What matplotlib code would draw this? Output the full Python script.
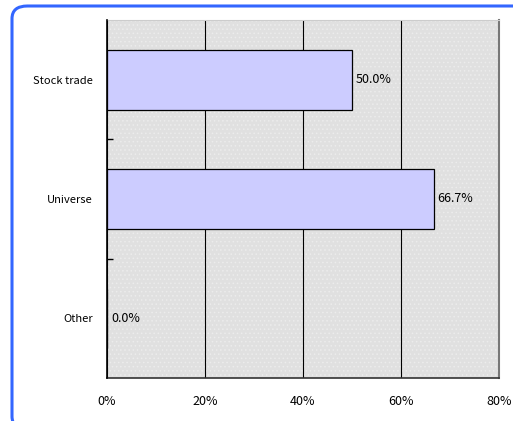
#Horizontal bar chart: share by category

import matplotlib.pyplot as plt
import numpy as np
from matplotlib.patches import FancyBboxPatch, Rectangle

plt.rcParams['font.family'] = ['Noto Sans CJK JP', 'DejaVu Sans']
plt.rcParams['hatch.linewidth'] = 0.6

categories = ['Stock trade', 'Universe', 'Other']
values = [50.0, 66.7, 0.0]
xticks = [0, 20, 40, 60, 80]

fig = plt.figure(figsize=(5.13, 4.21), dpi=100)

# rounded blue frame round the whole chart (runs off the right and bottom edges)
frame = FancyBboxPatch((12/513, -8/421), 530/513, (421 - 6 + 8)/421,
                       boxstyle='round,pad=0,rounding_size=0.03',
                       transform=fig.transFigure, facecolor='white',
                       edgecolor='#3366ff', linewidth=2.2, zorder=-10)
fig.patches.append(frame)

ax = fig.add_axes([107/513, 1 - 378/421, 392/513, 358/421])
ax.set_facecolor('#e0e0e0')
# dotted background texture
ax.add_patch(Rectangle((0, 0), 1, 1, transform=ax.transAxes, facecolor='none',
                       edgecolor='#ececec', hatch='....', linewidth=0, zorder=0))

y = np.arange(len(categories))
ax.barh(y, values, height=0.5, color='#ccccff', edgecolor='black', linewidth=0.9, zorder=3)
for yi, v in zip(y, values):
    ax.text(v + 0.8, yi, '%.1f%%' % v, va='center', ha='left', fontsize=9, zorder=4)

ax.set_xlim(0, 80)
ax.set_ylim(len(categories) - 0.5, -0.5)
ax.set_xticks(xticks)
ax.set_xticklabels(['%d%%' % t for t in xticks], fontsize=9)
ax.set_yticks(y)
ax.set_yticklabels(categories, fontsize=8)
ax.set_yticks(np.arange(len(categories) - 1) + 0.5, minor=True)
ax.tick_params(axis='y', which='major', length=0, pad=10)
ax.tick_params(axis='y', which='minor', direction='in', length=4, width=1)
ax.tick_params(axis='x', length=0, pad=12)
ax.xaxis.grid(True, color='black', linewidth=0.8, zorder=1)
ax.set_axisbelow(True)

ax.spines['left'].set_color('black')
ax.spines['left'].set_linewidth(1.2)
ax.spines['left'].set_zorder(5)
ax.spines['bottom'].set_color('#333333')
ax.spines['bottom'].set_linewidth(1.2)
ax.spines['right'].set_color('#777777')
ax.spines['right'].set_linewidth(1.5)
ax.spines['top'].set_color('#cccccc')

plt.savefig('out.png', dpi=100)
